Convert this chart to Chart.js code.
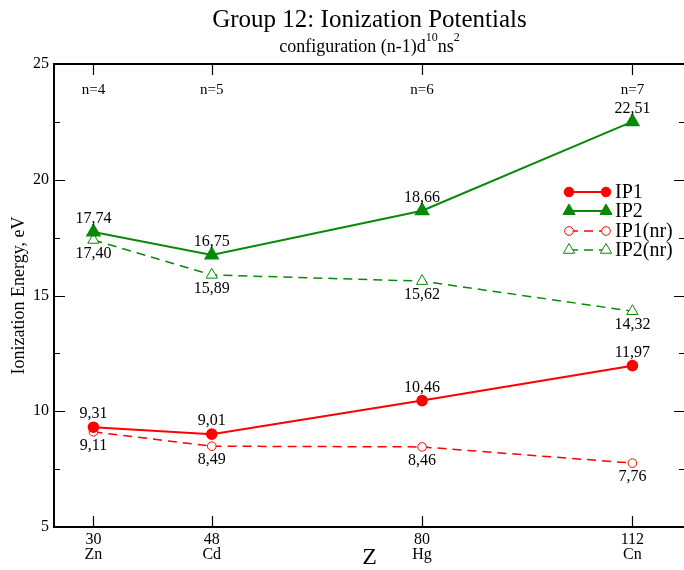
<!DOCTYPE html>
<html>
<head>
<meta charset="utf-8">
<script src="https://cdn.jsdelivr.net/npm/chart.js@4/dist/chart.umd.min.js"></script>
<style>
  html, body { margin: 0; background: #fff; overflow: hidden; }
  #wrap { width: 694px; height: 570px; }
</style>
</head>
<body>
<div id="wrap"><canvas id="ipChart"></canvas></div>
<script>
// GROUP 12 IONIZATION POTENTIALS - SCATTER LINES

const zValues = [30, 48, 80, 112];
const elements = ["Zn", "Cd", "Hg", "Cn"];
const shells = ["n=4", "n=5", "n=6", "n=7"];

const ip1 = [9.31, 9.01, 10.46, 11.97];
const ip2 = [17.74, 16.75, 18.66, 22.51];
const ip1nr = [9.11, 8.49, 8.46, 7.76];
const ip2nr = [17.40, 15.89, 15.62, 14.32];

const serif = "'Liberation Serif', 'DejaVu Serif', serif";
const red = "#ff0000";
const green = "#078a07";

function points(vals) {
    return zValues.map((z, i) => ({ x: z, y: vals[i] }));
}

const ipData = {
    datasets: [
        {
            label: "IP1",
            data: points(ip1),
            borderColor: red,
            backgroundColor: red,
            borderWidth: 2,
            pointStyle: "circle",
            pointRadius: 4.8,
            pointBackgroundColor: red,
            labelAbove: true
        },
        {
            label: "IP2",
            data: points(ip2),
            borderColor: green,
            backgroundColor: green,
            borderWidth: 2,
            pointStyle: "triangle",
            pointRadius: 7,
            pointBackgroundColor: green,
            labelAbove: true
        },
        {
            label: "IP1(nr)",
            data: points(ip1nr),
            borderColor: red,
            backgroundColor: "#fff",
            borderWidth: 1.5,
            borderDash: [9, 6],
            pointStyle: "circle",
            pointRadius: 4.3,
            pointBorderWidth: 1,
            pointBackgroundColor: "#fff",
            labelAbove: false
        },
        {
            label: "IP2(nr)",
            data: points(ip2nr),
            borderColor: green,
            backgroundColor: "#fff",
            borderWidth: 1.5,
            borderDash: [9, 6],
            pointStyle: "triangle",
            pointRadius: 6.5,
            pointBorderWidth: 1,
            pointBackgroundColor: "#fff",
            labelAbove: false
        }
    ]
};

function drawMarker(ctx, style, x, y, r, fill, stroke) {
    ctx.save();
    ctx.beginPath();
    if (style === "circle") {
        ctx.arc(x, y, r, 0, Math.PI * 2);
    } else {
        ctx.moveTo(x, y - r);
        ctx.lineTo(x + r * 0.866, y + r * 0.5);
        ctx.lineTo(x - r * 0.866, y + r * 0.5);
        ctx.closePath();
    }
    ctx.fillStyle = fill;
    ctx.fill();
    ctx.lineWidth = 1;
    ctx.strokeStyle = stroke;
    ctx.stroke();
    ctx.restore();
}

// frame, inward ticks, titles, value labels and legend
const decorations = {
    id: "decorations",
    afterDatasetsDraw(chart) {
        const ctx = chart.ctx;
        const area = chart.chartArea;
        const xs = chart.scales.x;
        const ys = chart.scales.y;

        ctx.save();
        ctx.strokeStyle = "#000";

        // ticks
        ctx.lineWidth = 1.2;
        ctx.beginPath();
        zValues.forEach(z => {
            const px = Math.round(xs.getPixelForValue(z)) + 0.5;
            ctx.moveTo(px, area.bottom);
            ctx.lineTo(px, area.bottom - 11);
            ctx.moveTo(px, area.top);
            ctx.lineTo(px, area.top + 11);
        });
        for (let v = 5; v <= 25; v += 2.5) {
            const py = Math.round(ys.getPixelForValue(v)) + 0.5;
            const len = v % 5 === 0 ? 11 : 6;
            ctx.moveTo(area.left, py);
            ctx.lineTo(area.left + len, py);
            ctx.moveTo(area.right, py);
            ctx.lineTo(area.right - len, py);
        }
        ctx.stroke();

        // frame
        ctx.lineWidth = 2;
        ctx.strokeRect(area.left, area.top, area.right - area.left, area.bottom - area.top);

        // shell labels along the top
        ctx.fillStyle = "#000";
        ctx.textAlign = "center";
        ctx.textBaseline = "middle";
        ctx.font = "15px " + serif;
        zValues.forEach((z, i) => {
            ctx.fillText(shells[i], xs.getPixelForValue(z), area.top + 26);
        });

        // value labels
        ctx.font = "16px " + serif;
        chart.data.datasets.forEach((ds, di) => {
            const meta = chart.getDatasetMeta(di);
            meta.data.forEach((pt, i) => {
                const txt = ds.data[i].y.toFixed(2).replace(".", ",");
                const dy = ds.labelAbove ? -13 : 14;
                ctx.fillText(txt, pt.x, pt.y + dy);
            });
        });

        // titles
        const cx = (area.left + area.right) / 2;
        ctx.font = "25px " + serif;
        ctx.textBaseline = "alphabetic";
        ctx.fillText("Group 12: Ionization Potentials", cx, 27);

        const parts = [
            ["configuration (n-1)d", false],
            ["10", true],
            ["ns", false],
            ["2", true]
        ];
        const big = "18px " + serif;
        const small = "12px " + serif;
        let total = 0;
        parts.forEach(p => {
            ctx.font = p[1] ? small : big;
            total += ctx.measureText(p[0]).width;
        });
        let sx = cx - total / 2;
        ctx.textAlign = "left";
        parts.forEach(p => {
            ctx.font = p[1] ? small : big;
            ctx.fillText(p[0], sx, p[1] ? 41 : 52);
            sx += ctx.measureText(p[0]).width;
        });

        // legend
        const rows = [192, 211, 231, 250];
        ctx.font = "20px " + serif;
        ctx.textBaseline = "middle";
        chart.data.datasets.forEach((ds, di) => {
            const y = rows[di];
            ctx.save();
            ctx.strokeStyle = ds.borderColor;
            ctx.lineWidth = ds.borderWidth;
            ctx.setLineDash(ds.borderDash || []);
            ctx.beginPath();
            ctx.moveTo(569, y);
            ctx.lineTo(606, y);
            ctx.stroke();
            ctx.restore();
            const open = ds.pointBackgroundColor === "#fff";
            [569, 606].forEach(mx => {
                drawMarker(ctx, ds.pointStyle, mx, y, ds.pointRadius, open ? "#fff" : ds.borderColor, ds.borderColor);
            });
            ctx.fillStyle = "#000";
            ctx.fillText(ds.label, 615, y + 1);
        });

        ctx.restore();
    }
};

const ipChart = new Chart(document.getElementById("ipChart"), {
    type: "scatter",
    data: ipData,
    options: {
        responsive: true,
        maintainAspectRatio: false,
        animation: false,
        layout: { padding: { top: 64, right: 0, left: 0, bottom: 0 } },
        showLine: true,
        plugins: {
            legend: { display: false },
            tooltip: { enabled: false }
        },
        scales: {
            x: {
                type: "linear",
                min: 24,
                max: 120,
                grid: { display: false, drawTicks: false },
                border: { display: false },
                afterBuildTicks: scale => {
                    scale.ticks = zValues.map(v => ({ value: v }));
                },
                afterFit: scale => {
                    scale.height = 43;
                    scale.paddingLeft = 0;
                    scale.paddingRight = 0;
                },
                ticks: {
                    color: "#000",
                    padding: 5,
                    maxRotation: 0,
                    autoSkip: false,
                    font: { family: serif, size: 16, lineHeight: 0.95 },
                    callback: (v, i) => [String(v), elements[i]]
                },
                title: {
                    display: true,
                    text: "Z",
                    color: "#000",
                    padding: 0,
                    font: { family: serif, size: 24, lineHeight: 1 }
                }
            },
            y: {
                min: 5,
                max: 25,
                grid: { display: false, drawTicks: false },
                border: { display: false },
                afterFit: scale => {
                    scale.width = 54;
                    scale.paddingTop = 0;
                    scale.paddingBottom = 0;
                },
                ticks: {
                    stepSize: 5,
                    color: "#000",
                    padding: 5,
                    font: { family: serif, size: 16 }
                },
                title: {
                    display: true,
                    text: "Ionization Energy, eV",
                    color: "#000",
                    padding: { top: 8, bottom: 0 },
                    font: { family: serif, size: 18, lineHeight: 1.2 }
                }
            }
        }
    },
    plugins: [decorations]
});
</script>
</body>
</html>
